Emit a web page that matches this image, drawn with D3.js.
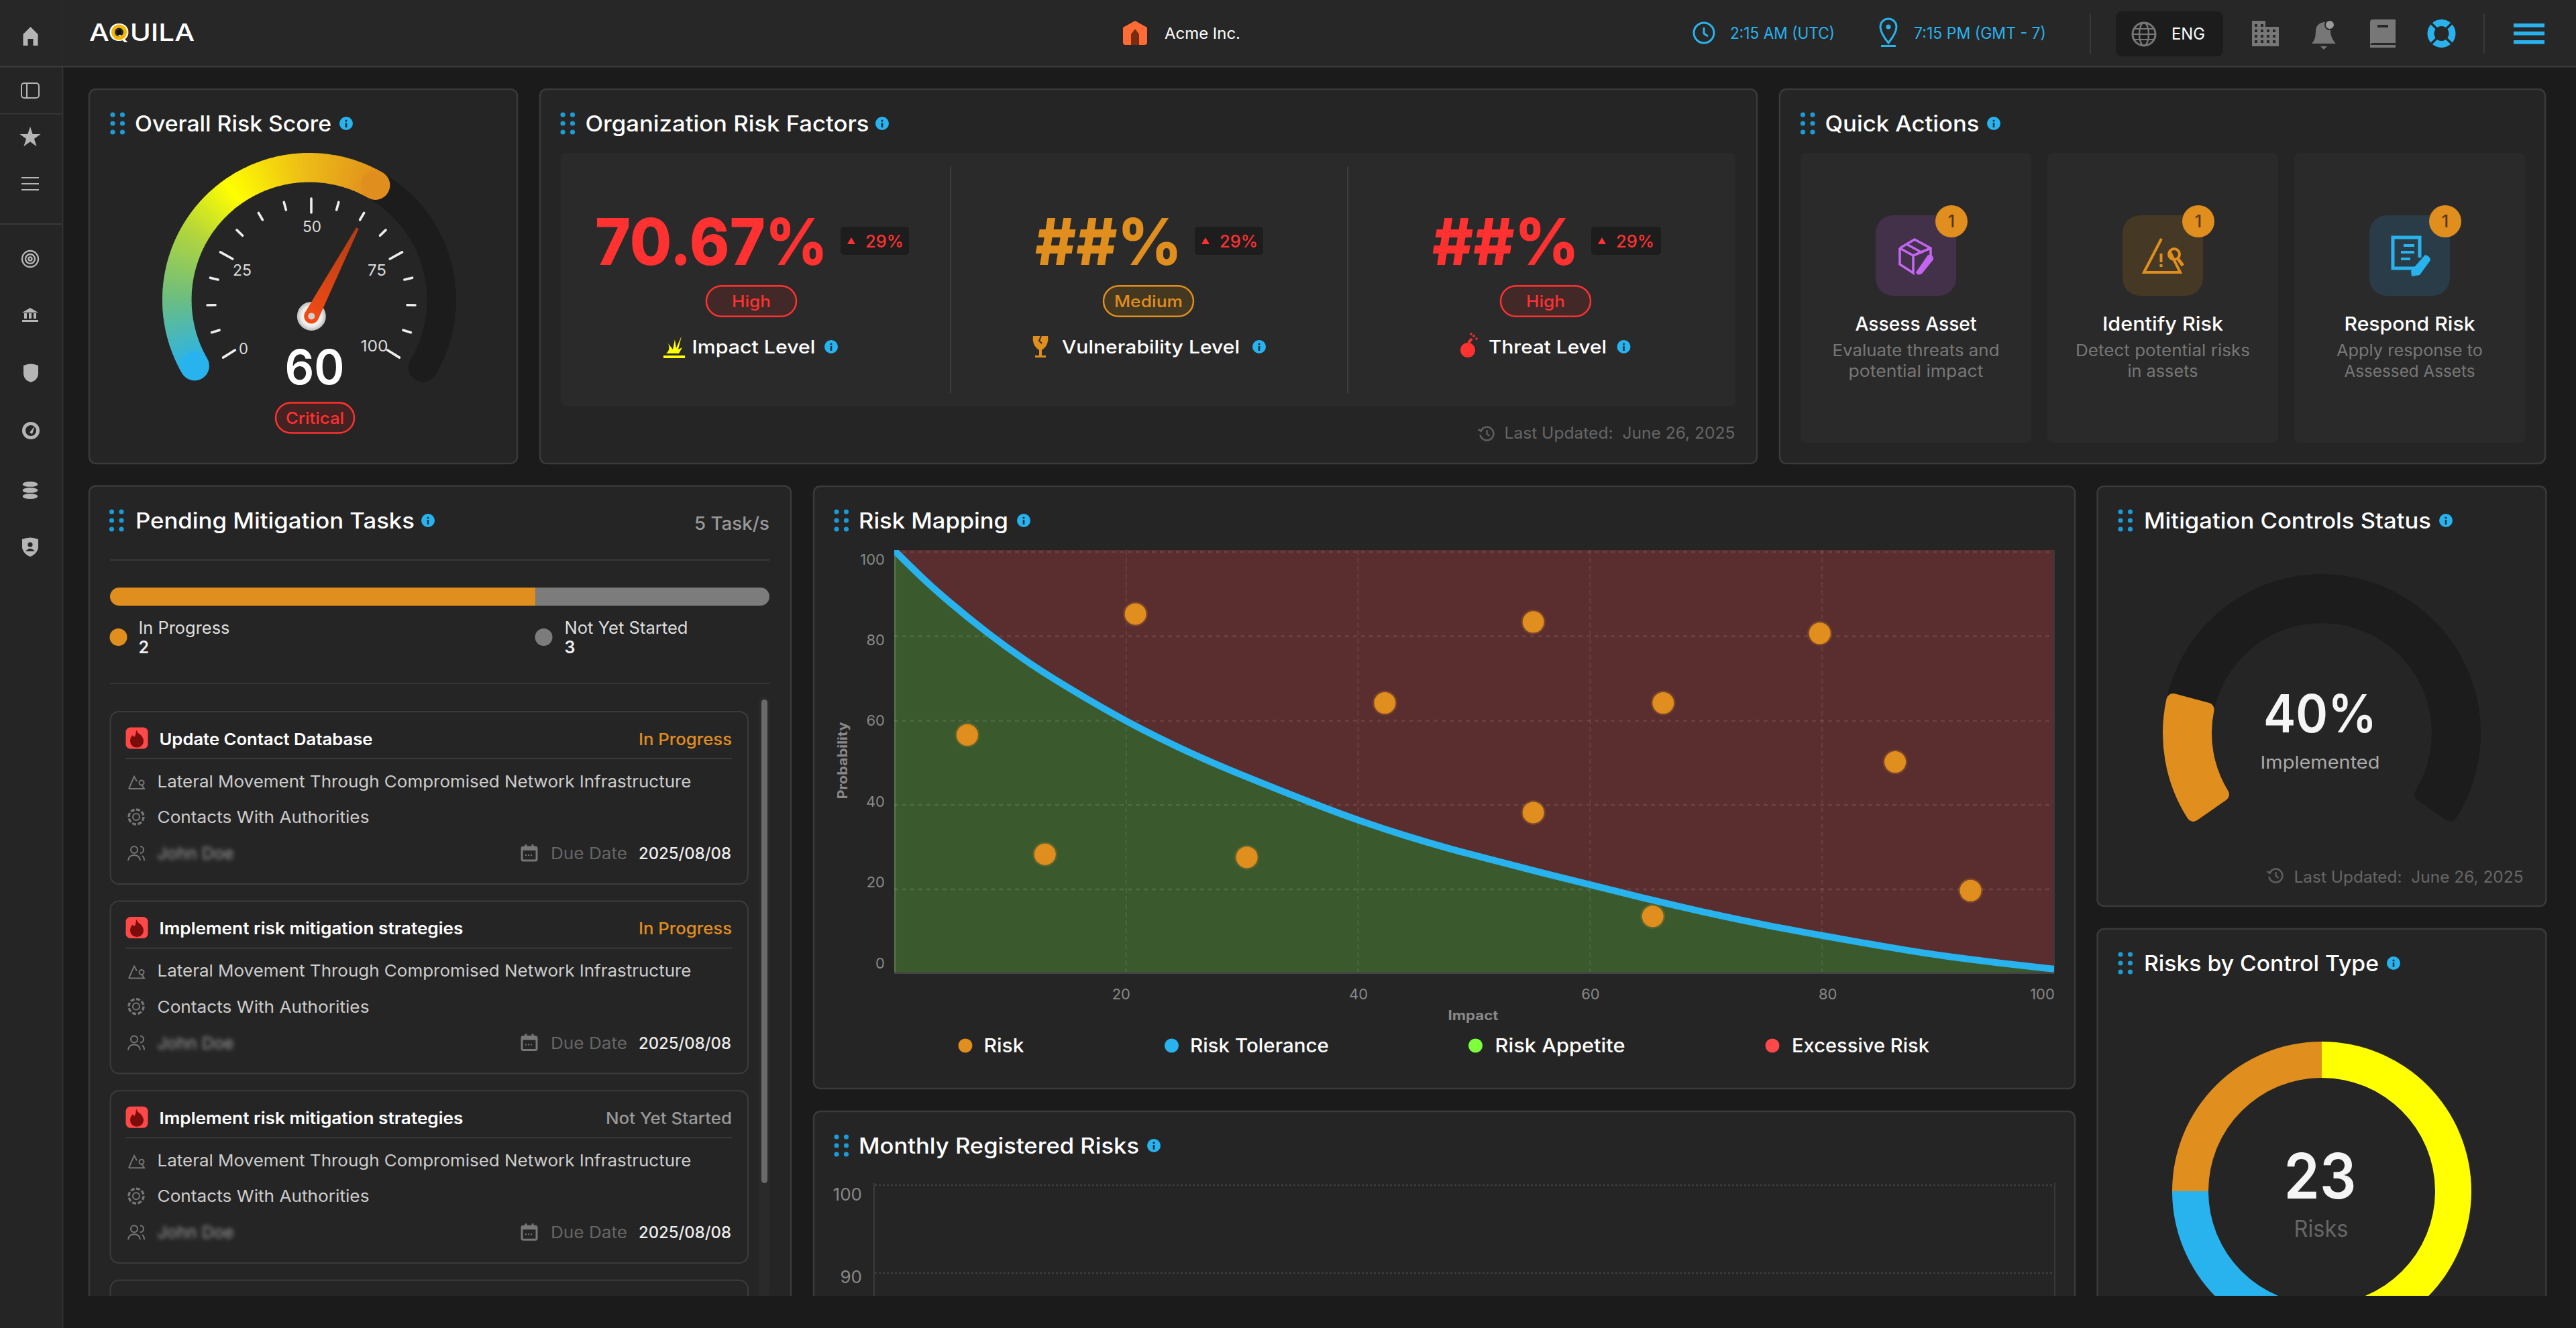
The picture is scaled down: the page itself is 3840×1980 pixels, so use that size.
<!doctype html>
<html lang="en">
<head>
<meta charset="utf-8">
<title>Aquila dashboard</title>
<script src="https://cdn.jsdelivr.net/npm/d3@7"></script>
<style>
  html, body { margin: 0; background: #1b1b1b; overflow: hidden; }
  svg { display: block; font-family: Inter, "Open Sans", sans-serif; }
  text { white-space: pre; }
</style>
</head>
<body>
<svg id="page" width="3840" height="1980"></svg>
<script>
// values
var gaugeValue = 60;
var gaugeTicks = d3.range(0, 17).map(function(i) { return i * 6.25; });
var gaugeLabels = [0, 25, 50, 75, 100];
var factorValues = ["70.67%", "##%", "##%"];
var factorDeltas = ["29%", "29%", "29%"];
var factorLevels = ["High", "Medium", "High"];
var factorNames = ["Impact Level", "Vulnerability Level", "Threat Level"];
var actionNames = ["Assess Asset", "Identify Risk", "Respond Risk"];
var actionLine1 = ["Evaluate threats and", "Detect potential risks", "Apply response to"];
var actionLine2 = ["potential impact", "in assets", "Assessed Assets"];
var actionCounts = [1, 1, 1];
var taskTitles = ["Update Contact Database", "Implement risk mitigation strategies", "Implement risk mitigation strategies"];
var taskStatuses = ["In Progress", "In Progress", "Not Yet Started"];
var taskBarShares = [64.5, 35.5];
var taskCounts = [2, 3];
var riskImpact = [6.3, 13.0, 20.8, 30.4, 42.3, 55.1, 55.1, 65.4, 66.3, 79.8, 86.3, 92.8];
var riskProbability = [56.6, 28.3, 85.3, 27.6, 64.2, 83.4, 38.2, 13.6, 64.2, 80.7, 50.2, 19.7];
var toleranceImpact = [0, 2.3, 4.65, 8.13, 11.62, 15.1, 20.07, 25.56, 30.2, 36.44, 40.06, 44.15, 48, 51.86, 55.7, 59.57, 64.74, 69.9, 75.07, 80.07, 85.4, 90.55, 95.7, 100];
var toleranceProbability = [100.4, 94.1, 88.3, 80.5, 73.6, 67.6, 59.6, 52.2, 46.8, 40, 36.3, 32.6, 29.5, 26.8, 24, 21.4, 17.8, 14.5, 11.5, 9, 6.4, 4.1, 2.4, 1.1];
var mapTicks = [20, 40, 60, 80, 100];
var mapYTicks = [0, 20, 40, 60, 80, 100];
var legendNames = ["Risk", "Risk Tolerance", "Risk Appetite", "Excessive Risk"];
var monthlyTicks = [100, 90];
var controlsImplemented = 40;
var controlTypeShares = [50, 25, 25];
var controlTypeTotal = 23;

var ORANGE = "#e08e1e", RED = "#ff3131", BLUE = "#29b3ee", YELLOW = "#ffff00", GREEN = "#7dff3c";
var svg = d3.select("#page");
var defs = svg.append("defs");

function txt(g, s, x, y, o) {
  var t = g.append("text").attr("x", x).attr("y", y)
    .attr("font-size", o.size).attr("font-weight", o.weight || 500)
    .attr("fill", o.fill || "#fff").attr("text-anchor", o.anchor || "start").text(s);
  if (o.w) t.attr("textLength", o.w).attr("lengthAdjust", "spacingAndGlyphs");
  return t;
}

function at(g, x, y) { return g.append("g").attr("transform", "translate(" + x + "," + y + ")"); }

function card(g, x, y, w, h) {
  g.append("rect").attr("x", x).attr("y", y).attr("width", w).attr("height", h).attr("rx", 10)
    .attr("fill", "#252525").attr("stroke", "#3a3a3a").attr("stroke-width", 2.5);
}

function infoDot(g, x, y) {
  var i = at(g, x, y);
  i.append("circle").attr("r", 10).attr("fill", BLUE);
  i.append("circle").attr("cy", -4).attr("r", 1.6).attr("fill", "#12303f");
  i.append("rect").attr("x", -1.3).attr("y", -1).attr("width", 2.6).attr("height", 7).attr("fill", "#12303f");
}

function cardTitle(g, s, gripX, x, w, infoX, cy) {
  [0, 1].forEach(function(c) {
    [-13, 0, 13].forEach(function(d) {
      g.append("circle").attr("cx", gripX + c * 14.5).attr("cy", cy + d).attr("r", 3.6).attr("fill", "#1a9cd8");
    });
  });
  txt(g, s, x, cy + 11.5, { size: 32, weight: 500, w: w });
  infoDot(g, infoX, cy);
}

function pill(g, s, cx, cy, w, h, color, fill, size, textW) {
  g.append("rect").attr("x", cx - w / 2).attr("y", cy - h / 2).attr("width", w).attr("height", h).attr("rx", h / 2)
    .attr("fill", fill).attr("stroke", color).attr("stroke-width", 2.5);
  txt(g, s, cx, cy + 8.5, { size: size, fill: color, anchor: "middle", w: textW });
}

function lastUpdated(g, iconX, iconY, x, baseline, w) {
  var i = at(g, iconX, iconY);
  i.append("path").attr("d", "M-9,-4A10,10 0 1 1 -10,2M-13,-6L-9,-3L-6,-7").attr("fill", "none").attr("stroke", "#5e5e5e").attr("stroke-width", 2.6);
  i.append("path").attr("d", "M0,-5V1L4,4").attr("fill", "none").attr("stroke", "#5e5e5e").attr("stroke-width", 2.4);
  txt(g, "Last Updated:  June 26, 2025", x, baseline, { size: 24, weight: 400, fill: "#666", w: w });
}

// frame: page, top bar and side bar
svg.append("rect").attr("width", 3840).attr("height", 1980).attr("fill", "#1b1b1b");

var main = svg.append("g").attr("clip-path", "url(#mainClip)");
defs.append("clipPath").attr("id", "mainClip").append("rect").attr("x", 94).attr("y", 100).attr("width", 3746).attr("height", 1832);

// sidebar
var side = svg.append("g");
side.append("rect").attr("width", 93).attr("height", 1980).attr("fill", "#252525");
side.append("rect").attr("x", 92).attr("y", 100).attr("width", 2.5).attr("height", 1880).attr("fill", "#303030");
side.append("rect").attr("y", 169).attr("width", 92).attr("height", 1.5).attr("fill", "#383838");
side.append("rect").attr("y", 333).attr("width", 92).attr("height", 2).attr("fill", "#383838");

var GREY = "#b5b5b5";
at(side, 45, 135).append("g").call(function(p) {
  p.append("rect").attr("x", -13).attr("y", -11).attr("width", 26).attr("height", 22).attr("rx", 4).attr("fill", "none").attr("stroke", GREY).attr("stroke-width", 2);
  p.append("rect").attr("x", -6).attr("y", -11).attr("width", 2).attr("height", 22).attr("fill", GREY);
});
at(side, 45, 205).append("path").attr("d", d3.symbol(d3.symbolStar, 300)).attr("fill", GREY);
at(side, 45, 274).selectAll("rect").data([-9, 0, 9]).join("rect").attr("x", -13).attr("y", function(d) { return d - 1; }).attr("width", 26).attr("height", 2).attr("fill", GREY);
at(side, 45, 386).call(function(p) {
  [12, 7, 2.5].forEach(function(r) {
    p.append("circle").attr("r", r).attr("fill", "none").attr("stroke", GREY).attr("stroke-width", 2.4);
  });
});
at(side, 45, 470).call(function(p) {
  p.append("path").attr("d", "M-12,-4L0,-11L12,-4Z").attr("fill", GREY);
  p.selectAll("rect").data([-9, -2, 5]).join("rect").attr("x", function(d) { return d; }).attr("y", -3).attr("width", 4).attr("height", 8).attr("fill", GREY);
  p.append("rect").attr("x", -12).attr("y", 7).attr("width", 24).attr("height", 3).attr("fill", GREY);
});
at(side, 46, 556).append("path").attr("d", "M-11,-11Q0,-16 11,-11V2Q10,11 0,14Q-10,11 -11,2Z").attr("fill", GREY);
at(side, 46, 642).call(function(p) {
  p.append("circle").attr("r", 13).attr("fill", GREY);
  p.append("circle").attr("r", 8).attr("fill", "#252525");
  p.append("path").attr("d", "M-2,3L6,-7L2,5Z").attr("fill", GREY);
});
at(side, 45, 731).call(function(p) {
  [-9, 0, 9].forEach(function(d) {
    p.append("ellipse").attr("cy", d).attr("rx", 12).attr("ry", 4.6).attr("fill", GREY).attr("stroke", "#252525").attr("stroke-width", 1.2);
  });
});
at(side, 45, 815).call(function(p) {
  p.append("path").attr("d", "M-12,-11Q0,-16 12,-11V2Q10,11 0,15Q-10,11 -12,2Z").attr("fill", GREY);
  p.append("circle").attr("cy", -3).attr("r", 3.6).attr("fill", "#252525");
  p.append("path").attr("d", "M-7,7Q0,-1 7,7Z").attr("fill", "#252525");
});

// top bar
var bar = svg.append("g");
bar.append("rect").attr("width", 3840).attr("height", 99).attr("fill", "#272727");
bar.append("rect").attr("y", 98).attr("width", 3840).attr("height", 2.5).attr("fill", "#3a3a3a");
bar.append("rect").attr("x", 92).attr("width", 1.5).attr("height", 98).attr("fill", "#2e2e2e");
at(bar, 45.5, 54).append("path").attr("d", "M0,-14L11,-3V14H4V4H-4V14H-11V-3Z").attr("fill", GREY);

txt(bar, "AQUILA", 133, 61, { size: 36, weight: 500, w: 157 });
at(bar, 177.5, 48).call(function(p) {
  p.append("circle").attr("r", 9).attr("fill", "none").attr("stroke", "#f7b500").attr("stroke-width", 5);
  p.append("circle").attr("r", 3.5).attr("fill", "#111");
});
at(bar, 1692, 49).call(function(p) {
  p.append("path").attr("d", "M-18,-8L0,-18L18,-8V14Q18,18 14,18H-14Q-18,18 -18,14Z").attr("fill", "#ff6b35");
  p.append("path").attr("d", "M-6,18V2L0,-6L6,2V18Z").attr("fill", "#7a2c10");
});
txt(bar, "Acme Inc.", 1736, 58, { size: 23, weight: 400, w: 113 });

at(bar, 2540, 49).call(function(p) {
  p.append("circle").attr("r", 15).attr("fill", "none").attr("stroke", BLUE).attr("stroke-width", 3);
  p.append("path").attr("d", "M0,-8V1L6,5").attr("fill", "none").attr("stroke", BLUE).attr("stroke-width", 3);
});
txt(bar, "2:15 AM (UTC)", 2579, 58, { size: 24, weight: 400, fill: BLUE, w: 156 });
at(bar, 2815, 47).call(function(p) {
  p.append("path").attr("d", "M0,17Q-12,2 -12,-7A12,12 0 1 1 12,-7Q12,2 0,17Z").attr("fill", "none").attr("stroke", BLUE).attr("stroke-width", 3);
  p.append("circle").attr("cy", -7).attr("r", 3.6).attr("fill", BLUE);
  p.append("rect").attr("x", -11).attr("y", 20).attr("width", 22).attr("height", 3).attr("fill", BLUE);
});
txt(bar, "7:15 PM (GMT - 7)", 2853, 58, { size: 24, weight: 400, fill: BLUE, w: 197 });
[3116, 3703].forEach(function(x) {
  bar.append("rect").attr("x", x - 0.75).attr("y", 20).attr("width", 1.5).attr("height", 60).attr("fill", "#404040");
});
bar.append("rect").attr("x", 3154).attr("y", 17).attr("width", 160).attr("height", 67).attr("rx", 9).attr("fill", "#1c1c1c");
at(bar, 3196, 51).call(function(p) {
  p.append("circle").attr("r", 17).attr("fill", "none").attr("stroke", "#777").attr("stroke-width", 3);
  p.append("ellipse").attr("rx", 7).attr("ry", 17).attr("fill", "none").attr("stroke", "#777").attr("stroke-width", 2.4);
  p.append("path").attr("d", "M-17,0H17M-15,-8H15M-15,8H15").attr("stroke", "#777").attr("stroke-width", 2);
});
txt(bar, "ENG", 3237, 59, { size: 24, weight: 400, w: 50 });

var ICON = "#777";
at(bar, 3377, 50).call(function(p) {
  p.append("rect").attr("x", -20).attr("y", -19).attr("width", 20).attr("height", 38).attr("fill", ICON);
  p.append("rect").attr("x", 0).attr("y", -10).attr("width", 20).attr("height", 29).attr("fill", ICON);
  d3.range(4).forEach(function(r) {
    d3.range(4).forEach(function(c) {
      p.append("rect").attr("x", -16 + c * 9).attr("y", -14 + r * 8).attr("width", 4).attr("height", 4).attr("fill", "#272727");
    });
  });
});
at(bar, 3464, 51).call(function(p) {
  p.append("path").attr("d", "M-18,14Q-12,8 -12,-4Q-12,-16 0,-18Q6,-19 10,-14V-2Q12,8 18,14Z").attr("fill", ICON);
  p.append("circle").attr("cx", 9).attr("cy", -14).attr("r", 7).attr("fill", "#9a9a9a").attr("stroke", "#272727").attr("stroke-width", 2);
  p.append("path").attr("d", "M-5,18H5L0,23Z").attr("fill", ICON);
});
at(bar, 3552, 50).call(function(p) {
  p.append("path").attr("d", "M-19,-17Q-19,-21 -15,-21H19V14H-14Q-19,14 -19,19Z").attr("fill", ICON);
  p.append("rect").attr("x", -8).attr("y", -13).attr("width", 16).attr("height", 4).attr("fill", "#272727");
  p.append("rect").attr("x", -19).attr("y", 17).attr("width", 38).attr("height", 4).attr("fill", ICON);
});
at(bar, 3639.5, 50).call(function(p) {
  p.append("circle").attr("r", 16).attr("fill", "none").attr("stroke", BLUE).attr("stroke-width", 10);
  p.append("path").attr("d", "M-15,-15L-6,-6M15,-15L6,-6M-15,15L-6,6M15,15L6,6").attr("stroke", "#272727").attr("stroke-width", 3.4);
});
[35, 47, 60].forEach(function(y) {
  bar.append("rect").attr("x", 3747).attr("y", y).attr("width", 46).attr("height", 5.6).attr("fill", BLUE);
});

// Overall Risk Score
card(main, 133, 133, 638, 558);
cardTitle(main, "Overall Risk Score", 168, 201, 293, 516, 184);

var gauge = at(main, 461, 447);
var ringInner = 175.5, ringOuter = 219, ringMid = (ringInner + ringOuter) / 2;
var rad = Math.PI / 180;
var gaugeAngle = d3.scaleLinear().domain([0, 100]).range([-120, 130]);
var gaugeColor = d3.scaleLinear().domain([-120, -90, -60, -36, -5, 30])
  .range(["#29b3ee", "#6cbd80", "#b4d63a", YELLOW, "#eec015", ORANGE]);
var endAngle = gaugeAngle(gaugeValue);

gauge.append("path")
  .attr("d", d3.arc().innerRadius(ringInner).outerRadius(ringOuter).startAngle(-122 * rad).endAngle(127 * rad).cornerRadius(21.5)())
  .attr("fill", "#1c1c1c");
var sliceStarts = d3.range(-120, endAngle, 1);
gauge.selectAll("path.slice").data(sliceStarts).join("path").attr("class", "slice")
  .attr("d", function(d) {
    return d3.arc().innerRadius(ringInner).outerRadius(ringOuter).startAngle(d * rad).endAngle(Math.min(d + 1.4, endAngle) * rad)();
  })
  .attr("fill", function(d) { return gaugeColor(d); });
[-120, endAngle].forEach(function(a) {
  gauge.append("circle").attr("cx", ringMid * Math.sin(a * rad)).attr("cy", -ringMid * Math.cos(a * rad))
    .attr("r", 21.75).attr("fill", gaugeColor(a));
});

var dial = at(main, 464, 451);
var tickAngle = d3.scaleLinear().domain([0, 100]).range([-122, 122]);
dial.selectAll("line").data(gaugeTicks).join("line")
  .attr("x1", function(d) { return (d % 25 === 0 ? 134 : 143) * Math.sin(tickAngle(d) * rad); })
  .attr("y1", function(d) { return -(d % 25 === 0 ? 134 : 143) * Math.cos(tickAngle(d) * rad); })
  .attr("x2", function(d) { return 155 * Math.sin(tickAngle(d) * rad); })
  .attr("y2", function(d) { return -155 * Math.cos(tickAngle(d) * rad); })
  .attr("stroke", "#eee").attr("stroke-width", 3.6).attr("stroke-linecap", "round");
var gaugeLabelX = [363, 361, 465, 562, 558], gaugeLabelY = [528, 411, 346, 411, 524];
gaugeLabels.forEach(function(v, i) {
  txt(main, v, gaugeLabelX[i], gaugeLabelY[i], { size: 23, weight: 400, fill: "#ddd", anchor: "middle", w: i === 0 ? 14 : (i === 4 ? 41 : 28) });
});

var needleGrad = defs.append("linearGradient").attr("id", "needleGrad").attr("x1", 0).attr("x2", 0).attr("y1", 1).attr("y2", 0);
needleGrad.append("stop").attr("offset", 0).attr("stop-color", "#f44c14");
needleGrad.append("stop").attr("offset", 1).attr("stop-color", "#b23c14");
var hubGrad = defs.append("radialGradient").attr("id", "hubGrad");
hubGrad.append("stop").attr("offset", 0).attr("stop-color", "#fff");
hubGrad.append("stop").attr("offset", 0.7).attr("stop-color", "#eee");
hubGrad.append("stop").attr("offset", 1).attr("stop-color", "#bbb");
var needleAngle = d3.scaleLinear().domain([0, 100]).range([-120, 126]);
var hub = at(main, 464.3, 471.4);
hub.append("circle").attr("r", 21.5).attr("fill", "url(#hubGrad)");
hub.append("path").attr("transform", "rotate(" + needleAngle(gaugeValue) + ")")
  .attr("d", "M-11,0L-2,-148L2,-148L11,0A11,11 0 0 1 -11,0Z").attr("fill", "url(#needleGrad)");
hub.append("circle").attr("r", 5).attr("fill", "#d0d0d0");

txt(main, gaugeValue, 469, 573, { size: 72, weight: 600, anchor: "middle", w: 89 });
pill(main, "Critical", 469.5, 623, 117, 45, RED, "#432222", 24, 87);

// Organization Risk Factors
card(main, 805, 133, 1814, 558);
cardTitle(main, "Organization Risk Factors", 839, 872.5, 423, 1315, 184);
main.append("rect").attr("x", 836).attr("y", 228).attr("width", 1751).attr("height", 378).attr("rx", 8).attr("fill", "#2a2a2a");
[1417, 2009].forEach(function(x) {
  main.append("rect").attr("x", x - 0.75).attr("y", 248).attr("width", 1.5).attr("height", 338).attr("fill", "#444");
});

var factorColors = [RED, ORANGE, RED];
var factorFills = ["#432828", "#453820", "#432828"];
var factorX = [887, 1543, 2135], factorW = [347, 219, 219];
var deltaBoxX = [1253, 1781, 2372], deltaBoxW = [102, 102, 104];
var levelCx = [1120, 1712, 2304];
var nameX = [1031.5, 1583, 2219], nameW = [184, 265, 176];
var nameIconX = [1005, 1551, 2188], nameInfoX = [1239, 1877, 2420.5];

factorValues.forEach(function(v, i) {
  txt(main, v, factorX[i], 394.5, { size: 96, weight: 800, fill: factorColors[i], w: factorW[i] });
  main.append("rect").attr("x", deltaBoxX[i]).attr("y", 338).attr("width", deltaBoxW[i]).attr("height", 42).attr("rx", 5).attr("fill", "#1d1d1d");
  at(main, deltaBoxX[i] + 16, 359).append("path").attr("d", "M-6,5L0,-5L6,5Z").attr("fill", RED);
  txt(main, factorDeltas[i], deltaBoxX[i] + 37, 369, { size: 25, weight: 500, fill: RED, w: 57 });
  pill(main, factorLevels[i], levelCx[i], 449, 134, 45.7, factorColors[i], factorFills[i], 24, i === 1 ? 102 : 58);
  txt(main, factorNames[i], nameX[i], 527, { size: 27, weight: 500, w: nameW[i] });
  infoDot(main, nameInfoX[i], 517);
});
at(main, nameIconX[0], 517).call(function(p) {
  p.append("path").attr("d", "M-12,10Q-5,4 -9,-5L-2,4L1,-11L3,2L11,-16L6,4L12,1L7,10Z").attr("fill", YELLOW);
  p.append("rect").attr("x", -16).attr("y", 13).attr("width", 32).attr("height", 4).attr("fill", YELLOW);
});
at(main, nameIconX[1], 517).call(function(p) {
  p.append("path").attr("d", "M-11,-16H11Q13,-2 2,5V13H8V16H-8V13H-2V5Q-13,-2 -11,-16Z").attr("fill", ORANGE);
  p.append("path").attr("d", "M1,-16L-2,-9L2,-5").attr("fill", "none").attr("stroke", "#2a2a2a").attr("stroke-width", 2);
});
at(main, nameIconX[2], 517).call(function(p) {
  p.append("circle").attr("cy", 5).attr("r", 11).attr("fill", RED);
  p.append("path").attr("d", "M1,-6L6,-12").attr("stroke", RED).attr("stroke-width", 4);
  p.selectAll("circle.spark").data([[9, -16], [5, -19], [13, -12]]).join("circle").attr("class", "spark")
    .attr("cx", function(d) { return d[0]; }).attr("cy", function(d) { return d[1]; }).attr("r", 1.8).attr("fill", RED);
});
lastUpdated(main, 2216.5, 646, 2242.5, 653.5, 344);

// Quick Actions
card(main, 2653, 133, 1141, 558);
cardTitle(main, "Quick Actions", 2687.5, 2720.5, 230, 2972, 184);
var actionTileX = [2684, 3052, 3420];
var iconTileX = [2796, 3164, 3532];
var iconTileFill = ["#433049", "#453825", "#2a3c47"];
var actionTextW = [181, 180, 195], line1W = [249, 260, 218], line2W = [201, 105, 195];
actionNames.forEach(function(name, i) {
  var cx = iconTileX[i] + 60;
  main.append("rect").attr("x", actionTileX[i]).attr("y", 228).attr("width", 344).attr("height", 432).attr("rx", 8).attr("fill", "#2a2a2a");
  main.append("rect").attr("x", iconTileX[i]).attr("y", 321).attr("width", 120).attr("height", 120).attr("rx", 26).attr("fill", iconTileFill[i]);
  main.append("circle").attr("cx", iconTileX[i] + 113).attr("cy", 330).attr("r", 24).attr("fill", ORANGE);
  txt(main, actionCounts[i], iconTileX[i] + 113, 339, { size: 25, weight: 500, fill: "#5a3606", anchor: "middle" });
  txt(main, name, cx, 493, { size: 29, weight: 500, anchor: "middle", w: actionTextW[i] });
  txt(main, actionLine1[i], cx, 531, { size: 24.5, weight: 400, fill: "#777", anchor: "middle", w: line1W[i] });
  txt(main, actionLine2[i], cx, 561.5, { size: 24.5, weight: 400, fill: "#777", anchor: "middle", w: line2W[i] });
});
at(main, 2856, 382).call(function(p) {
  var c = "#c266f0";
  p.append("path").attr("d", "M-24,-12L-2,-25L22,-12V2M-24,-12V12L-4,25V-1L-24,-12M-4,-1L22,-12M-14,-18L10,-5").attr("fill", "none").attr("stroke", c).attr("stroke-width", 3.6);
  p.append("path").attr("d", "M18,-2Q27,-3 26,5L9,26Q2,30 0,24Z").attr("fill", c);
});
at(main, 3224, 382).call(function(p) {
  var c = ORANGE;
  p.append("path").attr("d", "M-2,-26L-28,24H26L10,-8").attr("fill", "none").attr("stroke", c).attr("stroke-width", 4);
  p.append("rect").attr("x", -4.5).attr("y", -4).attr("width", 4).attr("height", 13).attr("fill", c);
  p.append("rect").attr("x", -4.5).attr("y", 12).attr("width", 4).attr("height", 4).attr("fill", c);
  p.append("circle").attr("cx", 17).attr("cy", -3).attr("r", 8).attr("fill", "none").attr("stroke", c).attr("stroke-width", 4);
  p.append("path").attr("d", "M22,3L30,14").attr("stroke", c).attr("stroke-width", 5);
});
at(main, 3593, 382).call(function(p) {
  var c = BLUE;
  p.append("path").attr("d", "M10,18H-26V-28H14V2").attr("fill", "none").attr("stroke", c).attr("stroke-width", 5);
  p.append("path").attr("d", "M-10,-16H6M-14,-6H6M-14,4H0").attr("stroke", c).attr("stroke-width", 4);
  p.append("path").attr("d", "M22,-2Q30,0 30,6L14,28L2,30L1,22Z").attr("fill", c);
});

// Pending Mitigation Tasks
card(main, 133, 724.5, 1046, 1300);
cardTitle(main, "Pending Mitigation Tasks", 166.5, 202, 416, 638, 776);
txt(main, "5 Task/s", 1035, 790, { size: 27, weight: 500, fill: "#999", w: 112 });
main.append("rect").attr("x", 164).attr("y", 834).attr("width", 983).attr("height", 1.8).attr("fill", "#3a3a3a");
main.append("rect").attr("x", 164).attr("y", 1018).attr("width", 983).attr("height", 1.8).attr("fill", "#3a3a3a");

var barX = d3.scaleLinear().domain([0, d3.sum(taskBarShares)]).range([164, 1147]);
defs.append("clipPath").attr("id", "barClip").append("rect").attr("x", 164).attr("y", 876).attr("width", 983).attr("height", 27).attr("rx", 13.5);
var barColors = [ORANGE, "#7c7c7c"];
main.append("g").attr("clip-path", "url(#barClip)").selectAll("rect").data(d3.cumsum(taskBarShares)).join("rect")
  .attr("x", function(d, i) { return barX(d - taskBarShares[i]); })
  .attr("y", 876)
  .attr("width", function(d, i) { return barX(d) - barX(d - taskBarShares[i]); })
  .attr("height", 27)
  .attr("fill", function(d, i) { return barColors[i]; });
var legendDotX = [176.5, 810.5], legendTextX = [206.5, 841.5], legendTextW = [136, 184];
["In Progress", "Not Yet Started"].forEach(function(s, i) {
  main.append("circle").attr("cx", legendDotX[i]).attr("cy", 950).attr("r", 13).attr("fill", barColors[i]);
  txt(main, s, legendTextX[i], 945, { size: 25, weight: 400, fill: "#ddd", w: legendTextW[i] });
  txt(main, taskCounts[i], legendTextX[i], 974, { size: 25, weight: 600, fill: "#eee" });
});

main.append("rect").attr("x", 1131).attr("y", 1039).attr("width", 16).attr("height", 900).attr("rx", 7).attr("fill", "#2a2a2a");
main.append("rect").attr("x", 1135).attr("y", 1043).attr("width", 9).attr("height", 721).attr("rx", 4.5).attr("fill", "#6a6a6a");

defs.append("filter").attr("id", "nameBlur").append("feGaussianBlur").attr("stdDeviation", 3.4);
var statusColor = d3.scaleOrdinal().domain(["In Progress", "Not Yet Started"]).range([ORANGE, "#999"]);
var statusWidth = d3.scaleOrdinal().domain(["In Progress", "Not Yet Started"]).range([139, 188]);
var titleW = [318, 453, 453];
function taskCard(i, title, state) {
  var t = at(main, 0, 1061 + i * 282.6);
  t.append("rect").attr("x", 164.5).attr("y", 0).attr("width", 950.5).attr("height", 257).attr("rx", 13)
    .attr("fill", "#252525").attr("stroke", "#3c3c3c").attr("stroke-width", 2);
  if (!title) return;
  t.append("rect").attr("x", 187.5).attr("y", 23.5).attr("width", 33).attr("height", 32).attr("rx", 7).attr("fill", "#ff4848");
  t.append("path").attr("transform", "translate(204,40)").attr("d", "M-1,-13Q2,-7 5,-6Q10,-1 10,4A10,9.5 0 0 1 -10,4Q-10,-2 -6,-5Q-5,-2 -3,-3Q-1,-7 -1,-13Z").attr("fill", "#7a0c0c");
  txt(t, title, 237.5, 49.5, { size: 24.5, weight: 600, w: titleW[i] });
  var sw = statusWidth(state);
  txt(t, state, 1091 - sw, 49.5, { size: 24.5, weight: 500, fill: statusColor(state), w: sw });
  t.append("rect").attr("x", 187.5).attr("y", 69).attr("width", 903.5).attr("height", 2).attr("fill", "#3a3a3a");
  txt(t, "Lateral Movement Through Compromised Network Infrastructure", 234.5, 112.5, { size: 24.5, weight: 400, fill: "#ccc", w: 796 });
  txt(t, "Contacts With Authorities", 234.5, 166, { size: 24.5, weight: 400, fill: "#ccc", w: 316 });
  txt(t, "John Doe", 234.5, 220, { size: 24.5, weight: 400, fill: "#999", w: 114 }).attr("filter", "url(#nameBlur)");
  txt(t, "Due Date", 821, 220, { size: 24.5, weight: 400, fill: "#666", w: 114 });
  txt(t, "2025/08/08", 952, 220, { size: 24.5, weight: 500, fill: "#eee", w: 138 });
  t.append("path").attr("transform", "translate(203,106)").attr("d", "M-11,9L-3,-9L1,-2M-11,9H12L8,3").attr("fill", "none").attr("stroke", "#777").attr("stroke-width", 2);
  t.append("circle").attr("cx", 8).attr("cy", 0).attr("r", 3.5).attr("transform", "translate(203,106)").attr("fill", "none").attr("stroke", "#777").attr("stroke-width", 2);
  at(t, 203, 157).call(function(p) {
    p.append("circle").attr("r", 5).attr("fill", "none").attr("stroke", "#777").attr("stroke-width", 2);
    p.append("circle").attr("r", 11).attr("fill", "none").attr("stroke", "#777").attr("stroke-width", 3.4).attr("stroke-dasharray", "6 2.6");
  });
  at(t, 203, 212).call(function(p) {
    p.append("circle").attr("cx", -3).attr("cy", -6).attr("r", 5).attr("fill", "none").attr("stroke", "#777").attr("stroke-width", 2);
    p.append("path").attr("d", "M-12,10Q-11,2 -3,2Q5,2 6,10M6,-11A5,5 0 0 1 6,-1M9,3Q12,5 12,10").attr("fill", "none").attr("stroke", "#777").attr("stroke-width", 2);
  });
  at(t, 789, 211).call(function(p) {
    p.append("rect").attr("x", -11).attr("y", -9).attr("width", 22).attr("height", 20).attr("rx", 2).attr("fill", "none").attr("stroke", "#777").attr("stroke-width", 3);
    p.append("rect").attr("x", -11).attr("y", -9).attr("width", 22).attr("height", 5).attr("fill", "#777");
    p.append("path").attr("d", "M-5,-13V-8M5,-13V-8").attr("stroke", "#777").attr("stroke-width", 3);
    p.append("path").attr("d", "M-6,3H6").attr("stroke", "#777").attr("stroke-width", 2).attr("stroke-dasharray", "2 2");
  });
}
taskTitles.forEach(function(title, i) { taskCard(i, title, taskStatuses[i]); });
taskCard(3);

// Risk Mapping
card(main, 1213, 725, 1880, 898);
cardTitle(main, "Risk Mapping", 1247, 1280, 223, 1526, 776);

var mapLeft = 1333, mapRight = 3062, mapTop = 820, mapBottom = 1450;
var x = d3.scaleLinear().domain([0, 100]).range([mapLeft, mapRight]);
var y = d3.scaleLinear().domain([0, 100]).range([1451.7, 823]);
// the chart's y labels sit on a slightly tighter pitch than its grid
var yLabel = d3.scaleLinear().domain([0, 100]).range([1435, 833]);
var tolerance = d3.zip(toleranceImpact, toleranceProbability);

defs.append("clipPath").attr("id", "mapClip").append("rect").attr("x", mapLeft).attr("y", mapTop).attr("width", mapRight - mapLeft).attr("height", mapBottom - mapTop);
var map = main.append("g");
map.append("rect").attr("x", mapLeft).attr("y", mapTop).attr("width", mapRight - mapLeft).attr("height", mapBottom - mapTop).attr("fill", "#5a2e2e");
map.append("path").datum(tolerance).attr("clip-path", "url(#mapClip)")
  .attr("d", d3.area().x(function(d) { return x(d[0]); }).y0(1470).y1(function(d) { return y(d[1]); }).curve(d3.curveBasis))
  .attr("fill", "#3a5a2e");
map.selectAll("line.gy").data([20, 40, 60, 80, 100]).join("line").attr("class", "gy")
  .attr("x1", mapLeft).attr("x2", mapRight).attr("y1", function(d) { return y(d); }).attr("y2", function(d) { return y(d); })
  .attr("stroke", "rgba(255,255,255,.09)").attr("stroke-width", 3).attr("stroke-dasharray", "6 6");
map.selectAll("line.gx").data([20, 40, 60, 80]).join("line").attr("class", "gx")
  .attr("x1", function(d) { return x(d); }).attr("x2", function(d) { return x(d); }).attr("y1", mapTop).attr("y2", mapBottom)
  .attr("stroke", "rgba(255,255,255,.07)").attr("stroke-width", 2.4).attr("stroke-dasharray", "7 5");
map.append("rect").attr("x", mapLeft).attr("y", mapTop).attr("width", 2.5).attr("height", mapBottom - mapTop).attr("fill", "rgba(255,255,255,.14)");
map.append("rect").attr("x", mapRight - 1).attr("y", mapTop).attr("width", 2).attr("height", mapBottom - mapTop).attr("fill", "#3a3a3a");
map.append("rect").attr("x", mapLeft).attr("y", mapBottom - 1).attr("width", mapRight - mapLeft).attr("height", 3).attr("fill", "#444");
map.append("path").datum(tolerance).attr("clip-path", "url(#mapClip)")
  .attr("d", d3.line().x(function(d) { return x(d[0]); }).y(function(d) { return y(d[1]); }).curve(d3.curveBasis))
  .attr("fill", "none").attr("stroke", BLUE).attr("stroke-width", 10);
map.selectAll("circle").data(d3.zip(riskImpact, riskProbability)).join("circle")
  .attr("cx", function(d) { return x(d[0]); }).attr("cy", function(d) { return y(d[1]); }).attr("r", 16)
  .attr("fill", ORANGE).attr("stroke", "rgba(224,142,30,.22)").attr("stroke-width", 5);

var xNudge = [-8, 0, 0, 8, -18];
var xAxis = main.append("g").attr("transform", "translate(0,1482)")
  .call(d3.axisBottom(x).tickValues(mapTicks).tickSize(0).tickPadding(0));
xAxis.select(".domain").remove();
xAxis.selectAll("text").attr("font-size", 22).attr("fill", "#888").attr("font-family", "Inter").attr("dy", 8)
  .attr("dx", function(d, i) { return xNudge[i]; });
var yAxis = main.append("g").attr("transform", "translate(1319,0)")
  .call(d3.axisLeft(yLabel).tickValues(mapYTicks).tickSize(0).tickPadding(0));
yAxis.select(".domain").remove();
yAxis.selectAll("text").attr("font-size", 22).attr("fill", "#888").attr("font-family", "Inter").attr("dy", 8)
  .attr("text-anchor", "end");
txt(main, "Impact", 2196, 1521, { size: 20, weight: 700, fill: "#888", anchor: "middle", w: 75 });
txt(main, "Probability", 0, 0, { size: 20, weight: 700, fill: "#888", anchor: "middle", w: 115 })
  .attr("transform", "translate(1263,1134) rotate(-90)");

var legendColors = [ORANGE, BLUE, GREEN, "#ff4848"];
var mapLegendDotX = [1439, 1746.5, 2199.5, 2642], mapLegendTextX = [1466.5, 1774, 2228.5, 2671], mapLegendW = [60, 207, 194, 205];
legendNames.forEach(function(s, i) {
  main.append("circle").attr("cx", mapLegendDotX[i]).attr("cy", 1559).attr("r", 10.5).attr("fill", legendColors[i]);
  txt(main, s, mapLegendTextX[i], 1569, { size: 28, weight: 500, w: mapLegendW[i] });
});

// Monthly Registered Risks
card(main, 1213, 1657, 1880, 500);
cardTitle(main, "Monthly Registered Risks", 1247, 1280, 418, 1720, 1708);
var monthlyY = d3.scaleLinear().domain([90, 100]).range([1898, 1767]);
[1303, 3063].forEach(function(px) {
  main.append("rect").attr("x", px - 1).attr("y", 1764).attr("width", 2).attr("height", 200).attr("fill", "#3a3a3a");
});
main.selectAll("line.my").data(monthlyTicks).join("line").attr("class", "my")
  .attr("x1", 1304).attr("x2", 3062).attr("y1", function(d) { return monthlyY(d); }).attr("y2", function(d) { return monthlyY(d); })
  .attr("stroke", "#3e3e3e").attr("stroke-width", 2.5).attr("stroke-dasharray", "3 3");
var monthlyAxis = main.append("g").attr("transform", "translate(1285,0)")
  .call(d3.axisLeft(d3.scaleLinear().domain([90, 100]).range([1903, 1780])).tickValues(monthlyTicks).tickSize(0).tickPadding(0));
monthlyAxis.select(".domain").remove();
monthlyAxis.selectAll("text").attr("font-size", 26).attr("fill", "#888").attr("font-family", "Inter").attr("dy", 9).attr("text-anchor", "end");

// Mitigation Controls Status
card(main, 3126.5, 725, 669, 626);
cardTitle(main, "Mitigation Controls Status", 3161, 3196, 428, 3646, 776);
var controlsGauge = at(main, 3461, 1093);
var controlsAngle = d3.scaleLinear().domain([0, 100]).range([-125, 0]);
var controlsArc = d3.arc().innerRadius(164).outerRadius(237).cornerRadius(10);
controlsGauge.append("path").attr("d", controlsArc.startAngle(-125 * rad).endAngle(125 * rad)()).attr("fill", "#1c1c1c");
controlsGauge.append("path").attr("d", controlsArc.startAngle(-125 * rad).endAngle(controlsAngle(controlsImplemented) * rad)()).attr("fill", ORANGE);
txt(main, controlsImplemented + "%", 3458.5, 1092, { size: 78, weight: 600, fill: "#f5f5f5", anchor: "middle", w: 169 });
txt(main, "Implemented", 3458.5, 1146, { size: 26, weight: 400, fill: "#aaa", anchor: "middle", w: 178 });
lastUpdated(main, 3392.5, 1305, 3419.5, 1316, 342);

// Risks by Control Type
card(main, 3126.5, 1385, 669, 800);
cardTitle(main, "Risks by Control Type", 3161, 3196, 350, 3568, 1436);
var donutColors = [YELLOW, BLUE, ORANGE];
var donut = at(main, 3461, 1776);
donut.selectAll("path").data(d3.pie().sort(null)(controlTypeShares)).join("path")
  .attr("d", d3.arc().innerRadius(169).outerRadius(223))
  .attr("fill", function(d, i) { return donutColors[i]; });
txt(main, controlTypeTotal, 3458.5, 1787, { size: 94, weight: 600, fill: "#f5f5f5", anchor: "middle", w: 108 });
txt(main, "Risks", 3460, 1844, { size: 34, weight: 400, fill: "#666", anchor: "middle", w: 81 });
</script>
</body>
</html>
